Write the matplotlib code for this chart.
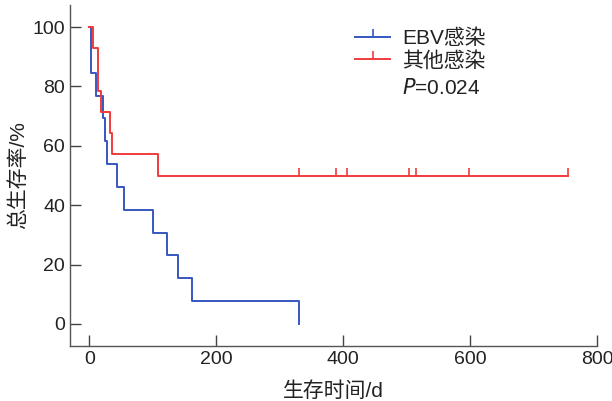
import numpy as np
import matplotlib.pyplot as plt
from matplotlib.lines import Line2D

plt.rcParams['font.family'] = ['Liberation Sans', 'Noto Sans CJK SC']

# survival data (days, 1 = death, 0 = censored)
ebv_time = [2, 2, 10, 22, 25, 28, 43, 54, 101, 122, 140, 161, 331]
ebv_event = [1, 1, 1, 1, 1, 1, 1, 1, 1, 1, 1, 1, 1]
other_time = [5, 14, 14, 18, 33, 36, 108, 330, 388, 406, 503, 514, 599, 754]
other_event = [1, 1, 1, 1, 1, 1, 1, 0, 0, 0, 0, 0, 0, 0]

labels = ['EBV感染', '其他感染']
colors = ['#3757c0', '#f23a3a']


def km(times, events):
    times = np.array(times, float)
    events = np.array(events)
    t_out, s_out = [0.0], [100.0]
    s = 100.0
    cens_t, cens_s = [], []
    for t in np.unique(times):
        at_risk = np.sum(times >= t)
        d = np.sum((times == t) & (events == 1))
        c = np.sum((times == t) & (events == 0))
        if d > 0:
            s = s * (1 - d / at_risk)
            t_out.append(t)
            s_out.append(s)
        if c > 0:
            cens_t.append(t)
            cens_s.append(s)
    t_out.append(times.max())
    s_out.append(s)
    return t_out, s_out, cens_t, cens_s


fig = plt.figure(figsize=(6.12, 4.01), dpi=100)
ax = fig.add_axes([0.1144, 0.138, 0.861, 0.85])

handles = []
for tt, ee, col, lab in zip([ebv_time, other_time], [ebv_event, other_event], colors, labels):
    t, s, ct, cs = km(tt, ee)
    ax.step(t, s, where='post', color=col, lw=1.4)
    ax.plot(ct, cs, ls='none', marker=2, ms=6, mew=1.2, color=col)
    handles.append(Line2D([], [], color=col, lw=1.4, marker=2, ms=6, mew=1.2))

ax.set_xlim(-30.6, 800)
ax.set_ylim(-7.3, 107.5)
ax.set_xticks([0, 200, 400, 600, 800])
ax.set_yticks([0, 20, 40, 60, 80, 100])
ax.tick_params(direction='in', length=8, width=1, color='#444444',
               labelsize=14, labelcolor='#222222')
for side in ['top', 'right']:
    ax.spines[side].set_visible(False)
for side in ['left', 'bottom']:
    ax.spines[side].set_color('#555555')
    ax.spines[side].set_linewidth(1)

ax.set_xlabel('生存时间/d', fontsize=15, color='#222222', labelpad=10)
ax.set_ylabel('总生存率/%', fontsize=15, color='#222222', labelpad=3)

leg = ax.legend(handles, labels, loc='upper left', bbox_to_anchor=(0.541, 0.93),
                frameon=False, fontsize=15, handlelength=1.68, handletextpad=0.58,
                labelspacing=0.12, borderpad=0, borderaxespad=0)
for txt in leg.get_texts():
    txt.set_color('#222222')
ax.text(0.630, 0.755, r'$\it{P}$' + '=0.024', transform=ax.transAxes,
        fontsize=15, color='#222222', va='center')

fig.savefig('out.png', dpi=100)
